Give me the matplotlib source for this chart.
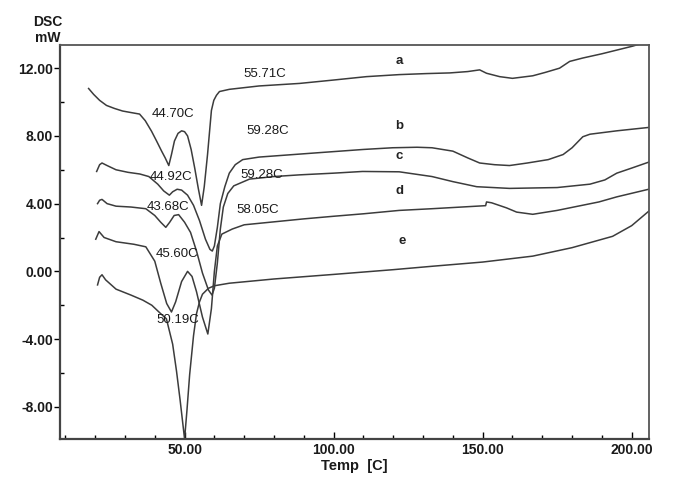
import numpy as np
import matplotlib
matplotlib.use("Agg")
import matplotlib.pyplot as plt
from matplotlib.ticker import MultipleLocator

plt.rcParams['font.family'] = ['Liberation Sans', 'DejaVu Sans']

# DSC traces: temperature [C], heat flow [mW]
temp_a = [17.8, 19.5, 21.5, 23.8, 26.5, 29.2, 32.0, 34.9, 36.8, 38.9, 40.6, 42.3, 43.5, 44.7,
          45.6, 46.6, 47.8, 49.0, 50.0, 51.0, 52.2, 53.4, 54.6, 55.7, 56.6, 57.7, 58.4, 59.0,
          59.8, 60.7, 61.7, 65.0, 75.0, 88.6, 100.0, 111.0, 122.0, 131.0, 139.0, 145.0, 149.0,
          151.3, 155.7, 160.0, 166.8, 171.0, 175.8, 179.2, 183.6, 190.0, 200.3, 206.0]
dsc_a = [10.8, 10.45, 10.1, 9.8, 9.62, 9.47, 9.38, 9.29, 8.9, 8.28, 7.7, 7.1, 6.7, 6.25,
         6.9, 7.7, 8.15, 8.3, 8.25, 8.0, 7.2, 6.1, 4.9, 3.9, 5.0, 6.9, 8.3, 9.5,
         10.1, 10.4, 10.62, 10.75, 10.95, 11.1, 11.3, 11.5, 11.62, 11.68, 11.72, 11.8, 11.9,
         11.7, 11.5, 11.4, 11.55, 11.75, 12.0, 12.4, 12.6, 12.85, 13.3, 13.6]

temp_b = [20.5, 21.5, 22.3, 24.0, 27.0, 31.0, 35.0, 38.0, 41.0, 43.0, 44.9, 46.0, 47.5, 49.0,
          51.0, 53.0, 55.0, 57.0, 58.5, 59.3, 60.0, 61.0, 62.0, 63.5, 65.0, 67.0, 69.5, 75.0,
          94.3, 110.0, 119.8, 128.0, 133.0, 140.0, 145.0, 149.0, 154.0, 159.0, 165.0, 172.0,
          177.0, 180.0, 183.6, 186.0, 195.0, 205.7]
dsc_b = [5.9, 6.3, 6.4, 6.25, 6.0, 5.85, 5.75, 5.6, 5.15, 4.75, 4.5, 4.7, 4.85, 4.8,
         4.5, 3.9, 3.0, 1.9, 1.3, 1.2, 1.5, 2.6, 4.0, 5.0, 5.8, 6.3, 6.6, 6.75,
         7.0, 7.2, 7.3, 7.33, 7.3, 7.1, 6.7, 6.4, 6.3, 6.25, 6.4, 6.6,
         6.9, 7.3, 7.95, 8.1, 8.3, 8.5]

temp_c = [20.8, 21.5, 22.3, 24.0, 27.0, 32.0, 37.0, 40.0, 42.0, 43.7, 45.0, 46.5, 48.0, 50.0,
          52.0, 54.0, 56.0, 58.0, 59.2, 60.0, 61.0, 62.0, 63.0, 64.5, 66.5, 71.8, 80.0, 88.6,
          100.0, 109.7, 122.0, 133.0, 140.0, 148.0, 159.0, 175.0, 186.0, 191.0, 195.0, 200.0, 205.7]
dsc_c = [4.0, 4.2, 4.25, 4.0, 3.85, 3.8, 3.7, 3.3, 2.9, 2.6, 2.9, 3.3, 3.35, 2.9,
         2.3, 1.2, -0.1, -1.1, -1.4, -1.0, 0.5, 2.5, 3.8, 4.6, 5.05, 5.45, 5.6, 5.7,
         5.8, 5.9, 5.88, 5.6, 5.3, 5.0, 4.9, 4.95, 5.15, 5.4, 5.8, 6.1, 6.45]

temp_d = [20.2, 21.3, 23.0, 27.0, 33.0, 37.0, 40.0, 42.0, 44.0, 45.6, 47.0, 49.0, 51.0, 52.5,
          54.0, 56.0, 57.8, 59.0, 60.0, 61.0, 62.5, 66.0, 70.0, 90.0, 99.7, 110.0, 122.0, 133.0,
          148.0, 151.0, 151.3, 153.0, 158.0, 161.4, 166.8, 175.0, 189.0, 195.0, 205.7]
dsc_d = [1.9, 2.35, 2.0, 1.75, 1.6, 1.45, 0.6, -0.7, -1.9, -2.4, -1.8, -0.6, 0.0, -0.3,
         -1.2, -2.7, -3.7, -2.2, 0.0, 1.5, 2.2, 2.5, 2.75, 3.1, 3.25, 3.4, 3.6, 3.7,
         3.85, 3.88, 4.1, 4.05, 3.75, 3.5, 3.37, 3.6, 4.1, 4.4, 4.85]

temp_e = [20.8, 21.5, 22.3, 23.5, 27.0, 32.0, 36.0, 39.0, 42.0, 43.9, 46.0, 47.3, 48.5, 50.0,
          50.8, 51.7, 53.0, 54.0, 55.0, 56.0, 58.0, 60.0, 65.0, 80.0, 100.0, 120.0, 133.0,
          150.0, 166.8, 180.0, 193.6, 200.0, 205.7]
dsc_e = [-0.8, -0.35, -0.2, -0.5, -1.05, -1.4, -1.7, -2.0, -2.5, -2.8, -4.3, -5.9, -7.6, -9.9,
         -8.2, -6.1, -3.8, -2.5, -1.8, -1.35, -1.0, -0.85, -0.7, -0.45, -0.18, 0.1, 0.3,
         0.55, 0.9, 1.4, 2.07, 2.7, 3.55]

curve_names = ['a', 'b', 'c', 'd', 'e']
name_pos = [(122, 12.4), (122, 8.6), (122, 6.8), (122, 4.75), (123, 1.8)]

peak_labels = ['55.71C', '44.70C', '59.28C', '44.92C', '59.28C', '43.68C', '58.05C', '45.60C', '50.19C']
peak_pos = [(76.8, 11.65), (46.0, 9.3), (77.9, 8.3), (45.6, 5.6), (75.8, 5.7),
            (44.3, 3.8), (74.5, 3.65), (47.6, 1.05), (47.6, -2.85)]

fig = plt.figure(figsize=(6.84, 4.78), dpi=100)
ax = fig.add_axes([0.0877, 0.0816, 0.8611, 0.8243])

line_col = '#3c3c3c'
for t, y in [(temp_a, dsc_a), (temp_b, dsc_b), (temp_c, dsc_c), (temp_d, dsc_d), (temp_e, dsc_e)]:
    ax.plot(t, y, color=line_col, lw=1.1)

for name, (x, y) in zip(curve_names, name_pos):
    ax.text(x, y, name, fontsize=9.5, fontweight='bold', color='#222222', ha='center', va='center')
for lab, (x, y) in zip(peak_labels, peak_pos):
    ax.text(x, y, lab, fontsize=9.5, color='#1a1a1a', ha='center', va='center')

ax.set_xlim(8.2, 205.8)
ax.set_ylim(-9.9, 13.37)
ax.set_xticks([50, 100, 150, 200])
ax.set_xticklabels(['50.00', '100.00', '150.00', '200.00'])
ax.set_yticks([-8, -4, 0, 4, 8, 12])
ax.set_yticklabels(['-8.00', '-4.00', '0.00', '4.00', '8.00', '12.00'])
ax.xaxis.set_minor_locator(MultipleLocator(10))
ax.yaxis.set_minor_locator(MultipleLocator(2))

ax.tick_params(axis='x', which='major', direction='in', length=5, width=1, labelsize=10, pad=3)
ax.tick_params(axis='x', which='minor', direction='in', length=3, width=1)
ax.tick_params(axis='y', which='major', direction='out', length=4, width=1, labelsize=10, pad=1)
ax.tick_params(axis='y', which='minor', direction='in', length=3, width=1)
for lab in ax.get_xticklabels() + ax.get_yticklabels():
    lab.set_fontweight('bold')
    lab.set_color('#1a1a1a')

for side in ['left', 'bottom']:
    ax.spines[side].set_linewidth(1.6)
    ax.spines[side].set_color('#444444')
for side in ['top', 'right']:
    ax.spines[side].set_linewidth(1.3)
    ax.spines[side].set_color('#555555')

ax.set_xlabel('Temp  [C]', fontsize=10.5, fontweight='bold', labelpad=1, color='#1a1a1a')
fig.text(48 / 684, 1 - 22 / 478, 'DSC', fontsize=10, fontweight='bold', ha='center', va='center', color='#1a1a1a')
fig.text(48 / 684, 1 - 38 / 478, 'mW', fontsize=10, fontweight='bold', ha='center', va='center', color='#1a1a1a')

fig.savefig('out.png', dpi=100)
